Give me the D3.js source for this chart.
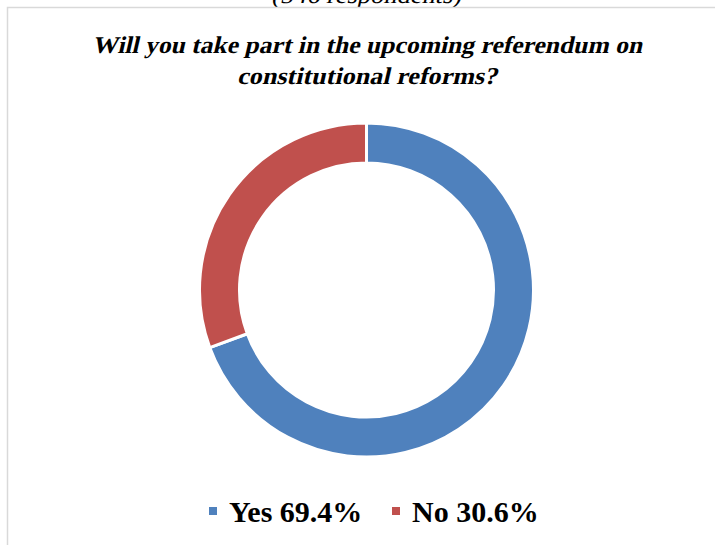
<!DOCTYPE html>
<html>
<head>
<meta charset="utf-8">
<script src="https://cdn.jsdelivr.net/npm/d3@7"></script>
<style>
html,body{margin:0;padding:0;background:#fff;overflow:hidden;}
svg{display:block;}
text{font-family:"Liberation Serif", "DejaVu Serif", serif;}
</style>
</head>
<body>
<script>
const categories = ["Yes", "No"];
const values = [69.4, 30.6];
const colors = ["#4F81BD", "#C0504D"];
const titleLines = ["Will you take part in the upcoming referendum on", "constitutional reforms?"];
const subtitle = "(546 respondents)";

const W = 715, H = 545;
const svg = d3.select("body").append("svg").attr("width", W).attr("height", H);

// synthetic italic via skew (serif italic face not available)
function italicText(parent, x, y, str, size, weight, targetW) {
  const t = parent.append("text")
    .attr("transform", `translate(${x},${y}) skewX(-13)`)
    .attr("text-anchor", "middle")
    .style("font-size", size + "px").style("font-weight", weight).attr("fill", "#000")
    .text(str);
  if (targetW) {
    t.attr("textLength", targetW).attr("lengthAdjust", "spacingAndGlyphs");
  }
  return t;
}

italicText(svg, 366, 3, subtitle, 24, "normal", 190);

svg.append("rect").attr("x", 7.5).attr("y", 7.5).attr("width", 760).attr("height", 600)
  .attr("fill", "#fff").attr("stroke", "#d9d9d9").attr("stroke-width", 1.5);

italicText(svg, 367, 53, titleLines[0], 24, "bold", 550);
italicText(svg, 367, 84, titleLines[1], 24, "bold", 260);

const cx = 366.5, cy = 290, rOuter = 167, rInner = 127;
const pie = d3.pie().sort(null).value(d => d.v);
const arc = d3.arc().innerRadius(rInner).outerRadius(rOuter);
const data = categories.map((c, i) => ({c, v: values[i], col: colors[i]}));
const g = svg.append("g").attr("transform", `translate(${cx},${cy})`);
g.selectAll("path").data(pie(data)).enter().append("path")
  .attr("d", arc).attr("fill", d => d.data.col)
  .attr("stroke", "#fff").attr("stroke-width", 3).attr("stroke-linejoin", "miter");

// legend
const legendX = [209, 392];
const lg = svg.append("g");
data.forEach((d, i) => {
  lg.append("rect").attr("x", legendX[i]).attr("y", 507).attr("width", 8).attr("height", 8).attr("fill", d.col);
  lg.append("text").attr("x", legendX[i] + 20).attr("y", 522)
    .style("font-weight", "bold").style("font-size", "30px").attr("fill", "#000")
    .text(`${d.c} ${d.v.toFixed(1)}%`);
});
</script>
</body>
</html>
